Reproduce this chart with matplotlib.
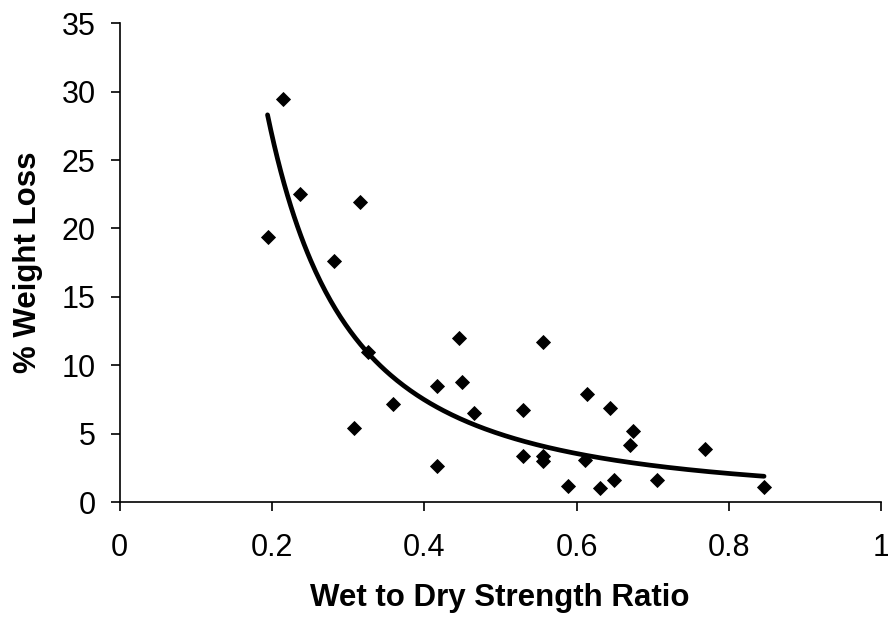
import numpy as np
import matplotlib
matplotlib.use("Agg")
import matplotlib.pyplot as plt

plt.rcParams['font.family'] = ['Liberation Sans', 'DejaVu Sans']

wet_dry_ratio = [0.214, 0.237, 0.315, 0.194, 0.281, 0.326, 0.445, 0.417, 0.450,
                 0.359, 0.465, 0.308, 0.417, 0.556, 0.530, 0.613, 0.644, 0.674,
                 0.670, 0.769, 0.529, 0.556, 0.556, 0.611, 0.588, 0.631, 0.649,
                 0.705, 0.846]
weight_loss = [29.5, 22.5, 21.9, 19.4, 17.6, 11.0, 12.0, 8.5, 8.8,
               7.2, 6.5, 5.4, 2.6, 11.7, 6.7, 7.9, 6.9, 5.2,
               4.2, 3.9, 3.4, 3.4, 3.0, 3.1, 1.2, 1.0, 1.6,
               1.6, 1.1]

x_ticks = [0, 0.2, 0.4, 0.6, 0.8, 1]
x_tick_labels = ["0", "0.2", "0.4", "0.6", "0.8", "1"]
y_ticks = [0, 5, 10, 15, 20, 25, 30, 35]

x = np.array(wet_dry_ratio)
y = np.array(weight_loss)

# power trendline (log-log least squares, like a spreadsheet power fit)
b, loga = np.polyfit(np.log(x), np.log(y), 1)
a = np.exp(loga)
xf = np.linspace(x.min(), x.max(), 300)
yf = a * xf ** b

fig = plt.figure(figsize=(8.88, 6.21), dpi=100)
ax = fig.add_axes([0.1349, 0.1916, 0.8576, 0.7709])

ax.plot(xf, yf, color='black', lw=3.4, solid_capstyle='round', zorder=2)
ax.plot(x, y, linestyle='none', marker='D', markersize=7, markeredgewidth=0.6,
        color='black', zorder=3)

ax.set_xlim(0, 1)
ax.set_ylim(0, 35)
ax.set_xticks(x_ticks)
ax.set_xticklabels(x_tick_labels)
ax.set_yticks(y_ticks)

for s in ['top', 'right']:
    ax.spines[s].set_visible(False)
for s in ['left', 'bottom']:
    ax.spines[s].set_linewidth(1.2)
    ax.spines[s].set_color('black')

ax.tick_params(axis='both', direction='out', length=6.5, width=1.2, labelsize=22, colors='black')
ax.tick_params(axis='x', pad=16)
ax.tick_params(axis='y', pad=11)

ax.set_xlabel('Wet to Dry Strength Ratio', fontsize=22.5, fontweight='bold', va='center')
ax.xaxis.set_label_coords(0.499, -0.2005)
ax.set_ylabel('% Weight Loss', fontsize=22.5, fontweight='bold', va='center')
ax.yaxis.set_label_coords(-0.12, 0.5)

fig.savefig('out.png', dpi=100)
